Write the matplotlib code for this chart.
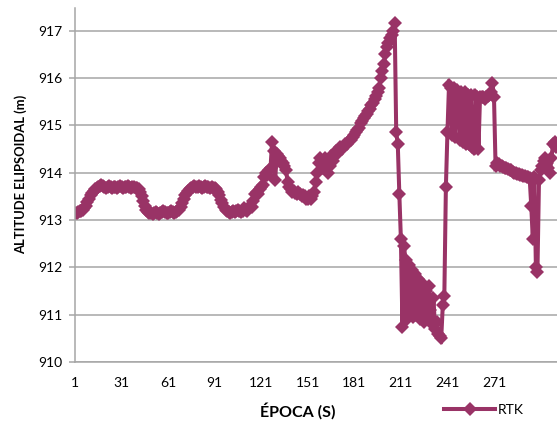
import matplotlib
matplotlib.use("Agg")
import matplotlib.pyplot as plt
import numpy as np

# RTK ellipsoidal altitude per epoch
rtk = [
    # 1-10
    913.15, 913.15, 913.18, 913.2, 913.2, 913.22, 913.25, 913.3, 913.38, 913.45,
    # 11-20
    913.52, 913.58, 913.62, 913.65, 913.68, 913.7, 913.72, 913.75, 913.72, 913.7,
    # 21-30
    913.68, 913.7, 913.72, 913.7, 913.68, 913.7, 913.7, 913.68, 913.7, 913.72,
    # 31-40
    913.7, 913.68, 913.7, 913.7, 913.72, 913.7, 913.68, 913.7, 913.7, 913.68,
    # 41-50
    913.68, 913.65, 913.6, 913.5, 913.4, 913.3, 913.22, 913.18, 913.15, 913.15,
    # 51-60
    913.12, 913.15, 913.18, 913.15, 913.12, 913.15, 913.18, 913.2, 913.18, 913.15,
    # 61-70
    913.15, 913.18, 913.2, 913.18, 913.15, 913.18, 913.2, 913.22, 913.28, 913.35,
    # 71-80
    913.45, 913.52, 913.58, 913.62, 913.65, 913.68, 913.7, 913.72, 913.7, 913.7,
    # 81-90
    913.72, 913.7, 913.68, 913.7, 913.72, 913.7, 913.7, 913.68, 913.7, 913.68,
    # 91-100
    913.68, 913.65, 913.6, 913.52, 913.42, 913.35, 913.28, 913.22, 913.2, 913.18,
    # 101-110
    913.15, 913.18, 913.2, 913.18, 913.2, 913.22, 913.2, 913.18, 913.2, 913.25,
    # 111-120
    913.22, 913.2, 913.25, 913.3, 913.28, 913.4, 913.55, 913.6, 913.55, 913.65,
    # 121-130
    913.7, 913.75, 913.9, 914.0, 913.95, 914.05, 914.1, 914.65, 914.45, 913.85,
    # 131-140
    914.4, 914.35, 914.3, 914.25, 914.2, 914.15, 914.05, 913.8, 913.7, 913.65,
    # 141-150
    913.6, 913.62, 913.58, 913.55, 913.6, 913.55, 913.5, 913.52, 913.5, 913.45,
    # 151-160
    913.45, 913.5, 913.45, 913.5, 913.6, 913.8, 914.0, 914.2, 914.3, 914.25,
    # 161-170
    914.1, 914.3, 914.2, 914.0, 914.15, 914.35, 914.25, 914.4, 914.45, 914.4,
    # 171-180
    914.5, 914.55, 914.5, 914.55, 914.6, 914.6, 914.65, 914.7, 914.7, 914.75,
    # 181-190
    914.8, 914.85, 914.9, 914.95, 915.05, 915.1, 915.15, 915.2, 915.25, 915.3,
    # 191-200
    915.35, 915.42, 915.48, 915.55, 915.62, 915.7, 915.8, 916.0, 916.15, 916.3,
    # 201-210
    916.5, 916.65, 916.75, 916.85, 916.9, 917.0, 917.17, 914.85, 914.6, 913.55,
    # 211-220
    912.6, 910.75, 912.45, 912.15, 910.9, 912.05, 911.0, 911.95, 910.95, 911.85,
    # 221-230
    911.0, 911.75, 910.9, 911.7, 911.3, 910.85, 911.5, 910.95, 911.6, 911.1,
    # 231-240
    910.8, 911.35, 910.7, 910.85, 910.6, 910.55, 910.5, 911.2, 911.4, 913.7,
    # 241-250
    914.85, 915.85, 915.8, 914.8, 915.8, 914.75, 915.75, 915.7, 914.7, 915.7,
    # 251-260
    914.65, 915.7, 914.6, 915.65, 914.6, 915.65, 914.55, 914.5, 915.65, 915.6,
    # 261-270
    914.5, 915.6, 915.6, 915.6, 915.55, 915.6, 915.62, 915.65, 915.7, 915.9,
    # 271-280
    915.6, 914.15, 914.2, 914.18, 914.15, 914.15, 914.12, 914.1, 914.1, 914.08,
    # 281-290
    914.05, 914.05, 914.02, 914.0, 914.0, 913.98, 913.98, 913.95, 913.95, 913.92,
    # 291-300
    913.92, 913.9, 913.9, 913.88, 913.3, 912.6, 913.9, 912.0, 911.9, 913.85,
    # 301-312
    914.05, 914.15, 914.25, 914.3, 914.2, 914.1, 914.0, 914.3, 914.6, 914.65,
    914.55, 914.6,
]
epochs = list(range(1, len(rtk) + 1))
xticks = [1, 31, 61, 91, 121, 151, 181, 211, 241, 271]
yticks = [910, 911, 912, 913, 914, 915, 916, 917]

color = "#993366"
plt.rcParams['font.family'] = ['Lato', 'DejaVu Sans']

W, H = 557, 421
fig = plt.figure(figsize=(W / 100, H / 100), dpi=100)
left, right, top, bottom = 75, 557, 8, 362
ax = fig.add_axes([left / W, 1 - bottom / H, (right - left) / W, (bottom - top) / H])

ax.plot(epochs, rtk, color=color, lw=2.9, marker='D', markersize=7.5,
        markeredgewidth=0, label='RTK', solid_joinstyle='miter', clip_on=True)

ax.set_xlim(1, 311.6)
ax.set_ylim(910, 917.48)
ax.set_xticks(xticks)
ax.set_yticks(yticks)
ax.grid(axis='y', color='#a6a6a6', lw=1.1)
ax.set_axisbelow(True)
for s in ['top', 'right']:
    ax.spines[s].set_visible(False)
for s in ['left', 'bottom']:
    ax.spines[s].set_color('#a6a6a6')
    ax.spines[s].set_linewidth(1.1)
ax.tick_params(axis='y', length=4, width=1.1, color='#a6a6a6', labelsize=10, pad=5)
ax.tick_params(axis='x', length=0, labelsize=10, pad=11)

fig.text(21 / W, 1 - 174 / H, 'ALTITUDE ELIPSOIDAL (m)', rotation=90,
         ha='center', va='center', fontsize=9.4, fontweight='bold')
fig.text(298 / W, 1 - 411 / H, 'ÉPOCA (S)', ha='center', va='center',
         fontsize=11.5, fontweight='bold')

leg = fig.legend(loc='center left', bbox_to_anchor=(444 / W, 1 - 410 / H),
                 frameon=False, fontsize=10, handlelength=3.7, handletextpad=0.2,
                 borderaxespad=0, borderpad=0)

fig.savefig('out.png', dpi=100)
